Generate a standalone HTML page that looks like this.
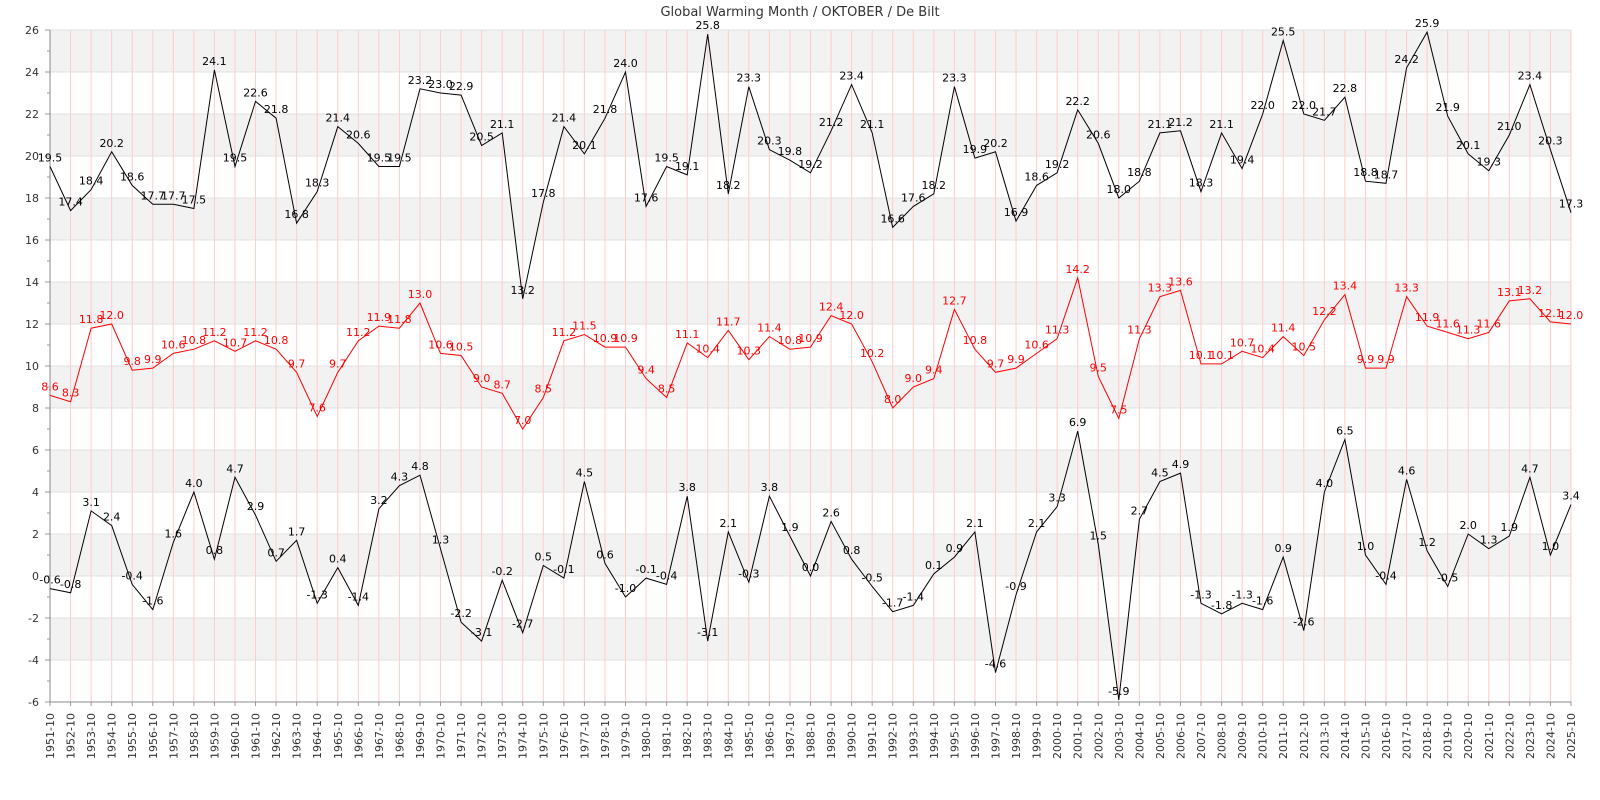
<!DOCTYPE html>
<html><head><meta charset="utf-8"><style>
html,body{margin:0;padding:0;background:#fff;}
svg{display:block;font-family:"DejaVu Sans","Liberation Sans",sans-serif;}
</style></head><body>
<svg id="c" width="1600" height="800" xmlns="http://www.w3.org/2000/svg"></svg>
<script>
var mx=[19.5,17.4,18.4,20.2,18.6,17.7,17.7,17.5,24.1,19.5,22.6,21.8,16.8,18.3,21.4,20.6,19.5,19.5,23.2,23.0,22.9,20.5,21.1,13.2,17.8,21.4,20.1,21.8,24.0,17.6,19.5,19.1,25.8,18.2,23.3,20.3,19.8,19.2,21.2,23.4,21.1,16.6,17.6,18.2,23.3,19.9,20.2,16.9,18.6,19.2,22.2,20.6,18.0,18.8,21.1,21.2,18.3,21.1,19.4,22.0,25.5,22.0,21.7,22.8,18.8,18.7,24.2,25.9,21.9,20.1,19.3,21.0,23.4,20.3,17.3];
var me=[8.6,8.3,11.8,12.0,9.8,9.9,10.6,10.8,11.2,10.7,11.2,10.8,9.7,7.6,9.7,11.2,11.9,11.8,13.0,10.6,10.5,9.0,8.7,7.0,8.5,11.2,11.5,10.9,10.9,9.4,8.5,11.1,10.4,11.7,10.3,11.4,10.8,10.9,12.4,12.0,10.2,8.0,9.0,9.4,12.7,10.8,9.7,9.9,10.6,11.3,14.2,9.5,7.5,11.3,13.3,13.6,10.1,10.1,10.7,10.4,11.4,10.5,12.2,13.4,9.9,9.9,13.3,11.9,11.6,11.3,11.6,13.1,13.2,12.1,12.0];
var mn=[-0.6,-0.8,3.1,2.4,-0.4,-1.6,1.6,4.0,0.8,4.7,2.9,0.7,1.7,-1.3,0.4,-1.4,3.2,4.3,4.8,1.3,-2.2,-3.1,-0.2,-2.7,0.5,-0.1,4.5,0.6,-1.0,-0.1,-0.4,3.8,-3.1,2.1,-0.3,3.8,1.9,0.0,2.6,0.8,-0.5,-1.7,-1.4,0.1,0.9,2.1,-4.6,-0.9,2.1,3.3,6.9,1.5,-5.9,2.7,4.5,4.9,-1.3,-1.8,-1.3,-1.6,0.9,-2.6,4.0,6.5,1.0,-0.4,4.6,1.2,-0.5,2.0,1.3,1.9,4.7,1.0,3.4];
var L=50,R=1571,T=30,B=702;
function X(i){return L+i*(R-L)/74;}
function Y(v){return T+(26-v)*(B-T)/32;}
var s='';
for(var v=-6;v<26;v+=2){ if(((v%4)+4)%4==0) s+='<rect x="'+L+'" y="'+Y(v+2)+'" width="'+(R-L)+'" height="'+(Y(v)-Y(v+2))+'" fill="#f2f2f2"/>';}
for(var v=-6;v<=26;v+=2){s+='<line x1="'+L+'" x2="'+R+'" y1="'+Y(v)+'" y2="'+Y(v)+'" stroke="#e0e0e0" stroke-width="1"/>';
 s+='<text x="'+(L-11)+'" y="'+(Y(v)+4)+'" font-size="11" text-anchor="end" fill="#333">'+v+'</text>';
 s+='<line x1="'+(L-5)+'" x2="'+L+'" y1="'+Y(v)+'" y2="'+Y(v)+'" stroke="#999"/>';
 if(v<26) s+='<line x1="'+(L-3)+'" x2="'+L+'" y1="'+Y(v+1)+'" y2="'+Y(v+1)+'" stroke="#999"/>';}
for(var i=0;i<75;i++){var x=X(i);s+='<line x1="'+x+'" x2="'+x+'" y1="'+T+'" y2="'+B+'" stroke="#ffcccc" stroke-width="1"/>';
 s+='<line x1="'+x+'" x2="'+x+'" y1="'+B+'" y2="'+(B+4)+'" stroke="#999"/>';
 s+='<text transform="translate('+(x+4)+','+(B+11)+') rotate(-90)" font-size="11" text-anchor="end" fill="#333">'+(1951+i)+'-10</text>';}
s+='<line x1="'+L+'" x2="'+L+'" y1="'+T+'" y2="'+B+'" stroke="#888"/>';
s+='<line x1="'+L+'" x2="'+R+'" y1="'+B+'" y2="'+B+'" stroke="#888"/>';
function ser(d,c){var p='';for(var i=0;i<d.length;i++)p+=(i?'L':'M')+X(i).toFixed(1)+','+Y(d[i]).toFixed(1);
 s+='<path d="'+p+'" fill="none" stroke="'+c+'" stroke-width="1"/>';
 for(var i=0;i<d.length;i++)s+='<text x="'+X(i).toFixed(1)+'" y="'+(Y(d[i])-5).toFixed(1)+'" font-size="11" text-anchor="middle" fill="'+c+'">'+d[i].toFixed(1)+'</text>';}
ser(mx,'#000');ser(me,'#f00');ser(mn,'#000');
s+='<text x="800" y="16" font-size="13" text-anchor="middle" fill="#333">Global Warming Month / OKTOBER / De Bilt</text>';
document.getElementById('c').innerHTML=s;
</script>
</body></html>
